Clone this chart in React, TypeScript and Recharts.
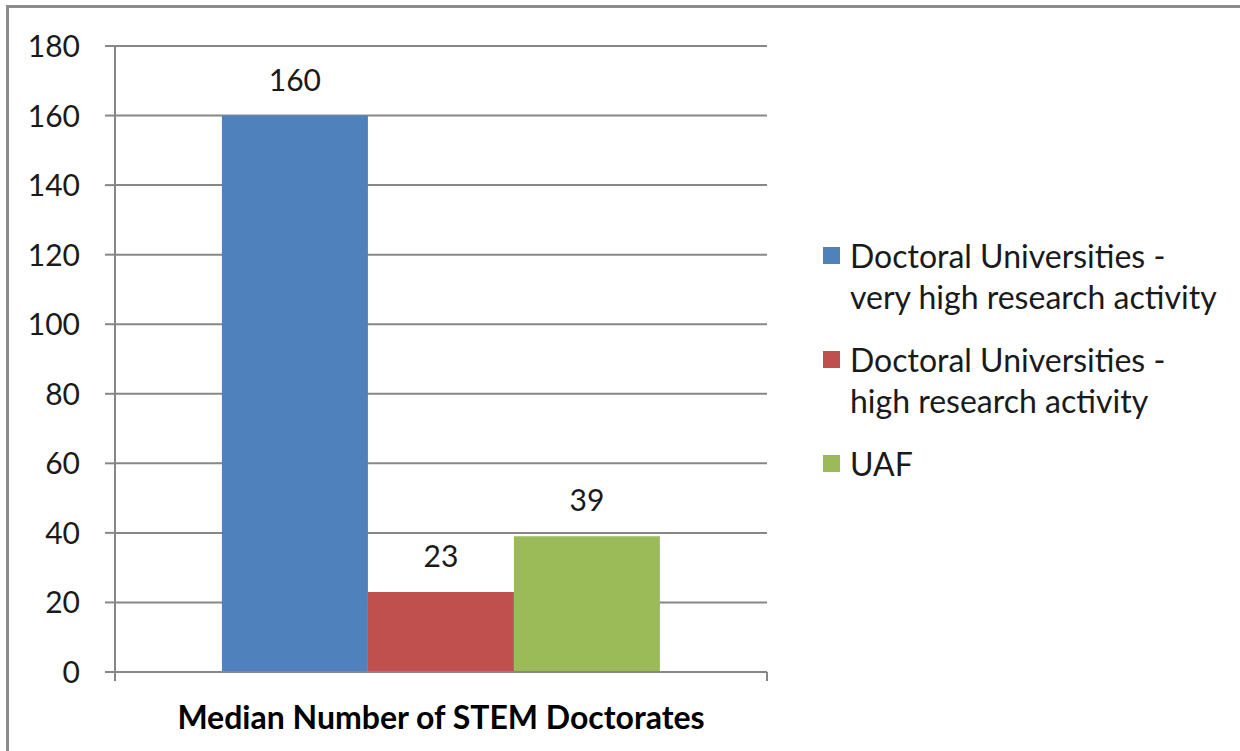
import { BarChart, Bar, XAxis, YAxis, CartesianGrid, Legend, LabelList } from 'recharts'

// chart data
const category = 'Median Number of STEM Doctorates'
const seriesKeys = ['veryHigh', 'high', 'uaf']
const seriesNames = [
  'Doctoral Universities -\nvery high research activity',
  'Doctoral Universities -\nhigh research activity',
  'UAF',
]
const seriesValues = [160, 23, 39]
const seriesColors = ['#4f81bd', '#c0504d', '#9bbb59']
const yTicks = [0, 20, 40, 60, 80, 100, 120, 140, 160, 180]

const row: Record<string, string | number> = { name: category }
seriesKeys.forEach((k, i) => { row[k] = seriesValues[i] })
const data = [row]

const FONT = 'Lato, "Open Sans", sans-serif'
const GRID = '#878787'

function YTick({ y, payload }: { y?: number; payload?: { value: number } }) {
  return (
    <text x={80} y={y} dy={11} textAnchor="end" fontSize={30} fill="#1a1a1a" fontFamily={FONT}>
      {payload?.value}
    </text>
  )
}

// category label + tick marks on the category boundaries (spreadsheet style)
function XTick({ x = 0, y = 0, width = 0, payload }: { x?: number; y?: number; width?: number; payload?: { value: string } }) {
  const half = width / 2
  return (
    <g>
      <line x1={x - half} x2={x - half} y1={y - 8} y2={y + 1} stroke={GRID} strokeWidth={2} />
      <line x1={x + half} x2={x + half} y1={y - 8} y2={y + 1} stroke={GRID} strokeWidth={2} />
      <text x={x} y={729} textAnchor="middle" fontSize={32} fontWeight={700} fill="#000" fontFamily={FONT}>
        {payload?.value}
      </text>
    </g>
  )
}

function LegendBox({ payload }: { payload?: Array<{ value: string; color: string }> }) {
  // keep series order, not the legend's default sort
  const items = [...(payload || [])].sort((a, b) => seriesNames.indexOf(a.value) - seriesNames.indexOf(b.value))
  return (
    <div style={{ fontFamily: FONT, fontSize: 32, color: '#1a1a1a', lineHeight: '41px' }}>
      {items.map((p, i) => (
        <div key={i} style={{ display: 'flex', alignItems: 'flex-start', marginBottom: 22 }}>
          <span style={{ width: 17, height: 17, background: p.color, marginTop: 12, marginRight: 10, flexShrink: 0 }} />
          <span style={{ whiteSpace: 'pre-line' }}>{p.value}</span>
        </div>
      ))}
    </div>
  )
}

export default function App() {
  return (
    <div style={{ position: 'fixed', left: 0, top: 0, width: 1240, height: 751, background: '#fff', overflow: 'hidden' }}>
      <div style={{ position: 'absolute', left: 6, top: 5, width: 1260, height: 780, border: '3px solid #8c8c8c' }} />
      <div style={{ position: 'absolute', left: 0, top: 0 }}>
        <BarChart width={1240} height={751} data={data}
          margin={{ top: 46, right: 473, bottom: 0, left: 0 }}
          barCategoryGap="16.4%" barGap={0}>
          <CartesianGrid vertical={false} stroke={GRID} strokeWidth={2} />
          <XAxis dataKey="name" stroke={GRID} strokeWidth={2} tickLine={false} tick={<XTick />} height={79} />
          <YAxis domain={[0, 180]} ticks={yTicks} width={115} stroke={GRID} strokeWidth={2}
            tickSize={10} tickLine={{ stroke: GRID, strokeWidth: 2 }} tick={<YTick />} />
          <Legend layout="horizontal" verticalAlign="middle" align="center"
            wrapperStyle={{ left: 823, top: 235, width: 415 }} content={<LegendBox />} />
          {seriesKeys.map((k, i) => (
            <Bar key={k} dataKey={k} name={seriesNames[i]} fill={seriesColors[i]} isAnimationActive={false}>
              <LabelList dataKey={k} position="top" offset={25} fontSize={30} fill="#1a1a1a" fontFamily={FONT} />
            </Bar>
          ))}
        </BarChart>
      </div>
    </div>
  )
}
